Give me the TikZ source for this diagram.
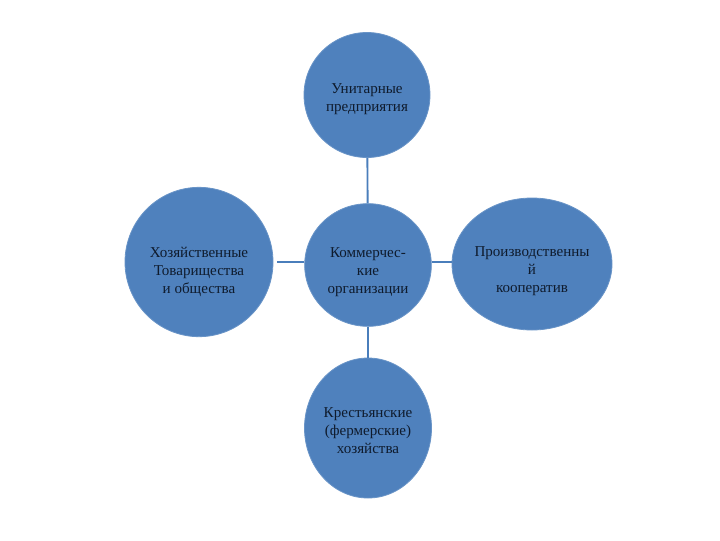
\documentclass[tikz,border=0pt]{standalone}
\usepackage{fontspec}
\setmainfont{Liberation Serif}
\usepackage{tikz}
\usetikzlibrary{shapes.geometric}
\definecolor{orgblue}{HTML}{4F81BD}
\definecolor{linkblue}{HTML}{4A7EBB}
\definecolor{orgtext}{HTML}{0F1B2D}

\begin{document}
\begin{tikzpicture}[
    x=0.75pt, y=-0.75pt,
    org/.style=
        {ellipse, fill=orgblue, draw=orgblue!85!white, line width=0.6pt,
         inner sep=0pt},
    caption/.style=
        {align=center, text=orgtext, inner sep=0pt,
         font=\fontsize{11.3}{13.5}\selectfont},
    link/.style={draw=linkblue, line width=1.4pt}]
    \useasboundingbox (0,0) rectangle (720,540);
    \node [org, minimum width=94.5pt, minimum height=93.75pt,
        label={[caption, yshift=-3pt]center:{Унитарные\\предприятия}}]
        (unitary) at (367, 95) {};
    \node [org, minimum width=95pt, minimum height=92pt,
        label={[caption, yshift=-5.25pt]center:{Коммерчес-\\кие\\организации}}]
        (commerce) at (368, 265) {};
    \node [org, minimum width=111pt, minimum height=112pt,
        label={[caption, yshift=-7.5pt]center:{Хозяйственные\\Товарищества\\и общества}}]
        (economic) at (199, 262) {};
    \node [org, minimum width=120pt, minimum height=99pt,
        label={[caption, yshift=-5.25pt]center:{Производственны\\й\\кооператив}}]
        (coop) at (532, 264) {};
    \node [org, minimum width=95.25pt, minimum height=105pt,
        label={[caption, yshift=-2.25pt]center:{Крестьянские\\(фермерские)\\хозяйства}}]
        (farms) at (368, 428) {};
    \coordinate (lmid) at (277, 262);
    \coordinate (rmid) at (452, 262);
    \draw [link] (unitary) -- (commerce);
    \draw [link] (commerce) -- (farms);
    \draw [link] (lmid) -- (commerce.west |- lmid);
    \draw [link] (commerce.east |- rmid) -- (rmid);
\end{tikzpicture}
\end{document}
